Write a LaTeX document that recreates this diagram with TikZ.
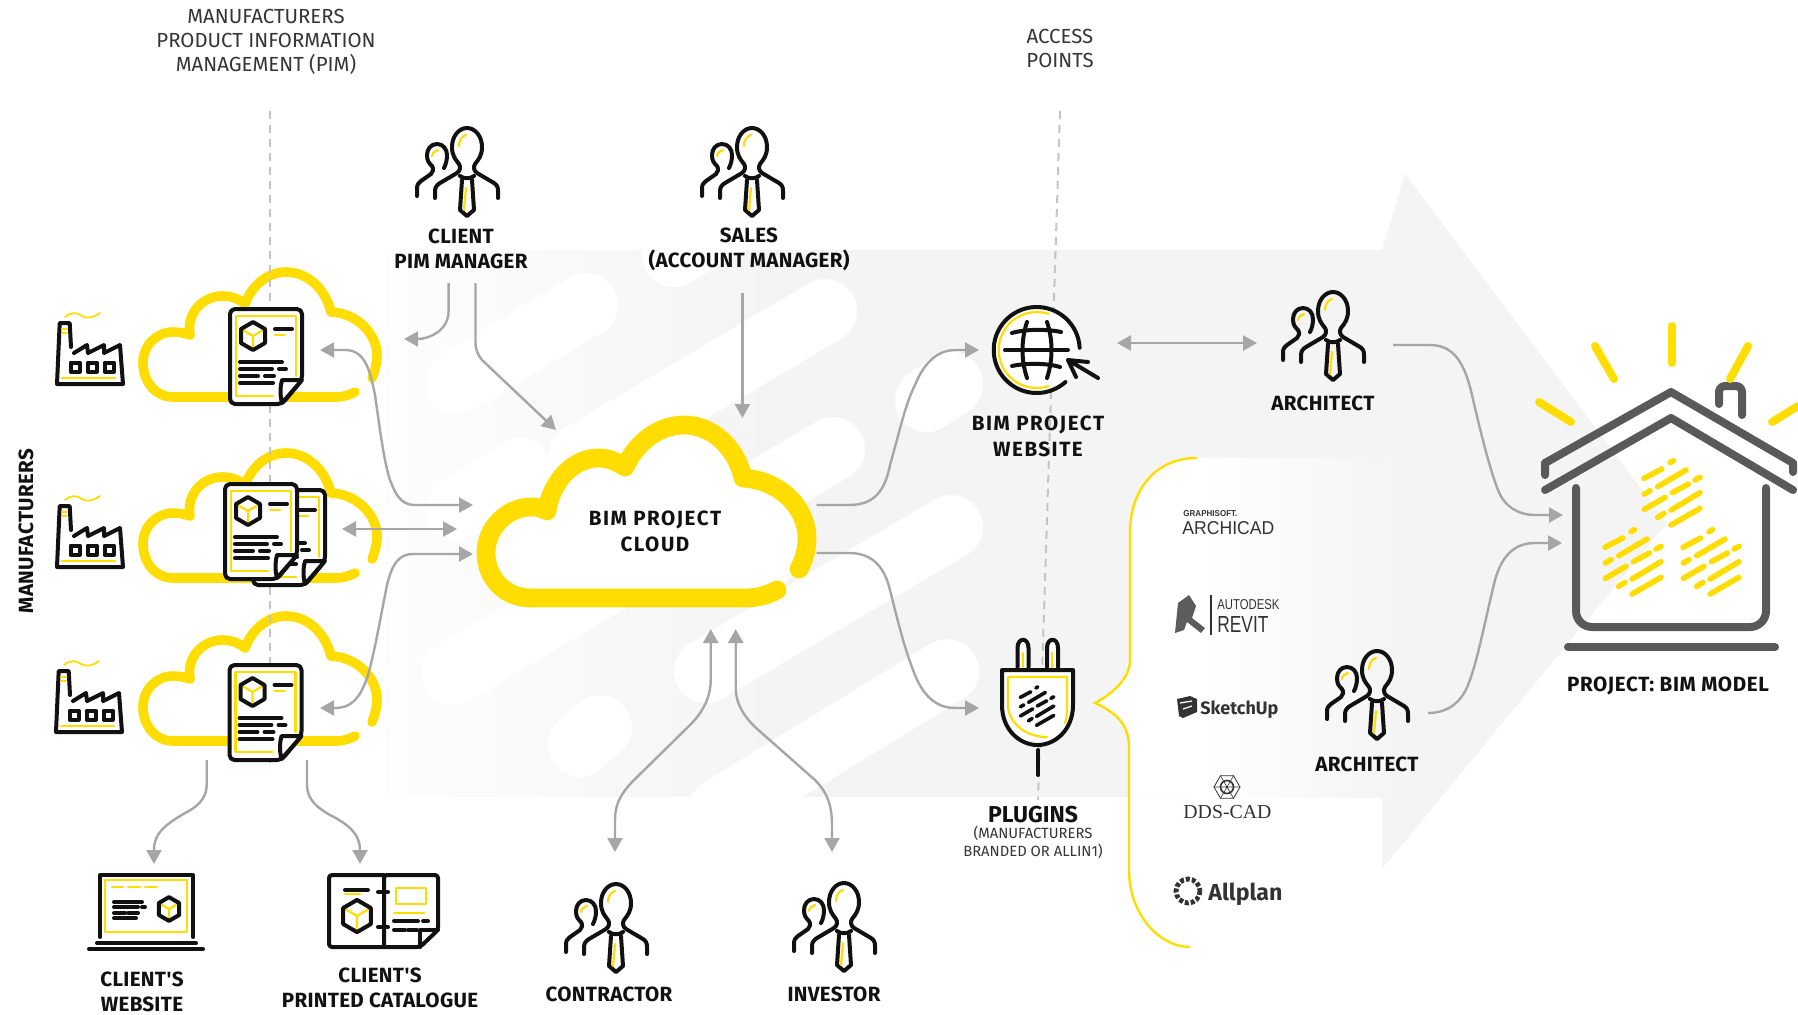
\documentclass[tikz,border=0pt]{standalone}
\usepackage{fontspec}
\usepackage{graphicx}
\setmainfont{Fira Sans}
\newfontfamily\arialf{Liberation Sans}
\newfontfamily\timesf{Liberation Serif}
\newfontfamily\firaspOne[LetterSpace=1.5]{Fira Sans}
\newfontfamily\firaspThree[LetterSpace=3]{Fira Sans}
\newfontfamily\firaspEight[LetterSpace=7.5]{Fira Sans}
\usetikzlibrary{arrows.meta,shapes.geometric}
\definecolor{ylw}{HTML}{FFDD00}
\definecolor{ink}{HTML}{111111}
\definecolor{conn}{HTML}{A6A6A6}
\definecolor{dashc}{HTML}{C4C4C4}
\definecolor{bgarrow}{HTML}{F4F4F4}
\definecolor{bgfade}{HTML}{FDFDFD}
\definecolor{hs}{HTML}{595959}
\definecolor{logoc}{HTML}{333333}
\tikzset{
  blk/.style={draw=ink,line width=2pt,line cap=round,line join=round},
  yl/.style={draw=ylw,line width=1.1pt,line cap=round,line join=round},
  cloudline/.style={draw=ylw,line width=4.8pt,line cap=round,line join=round},
  guide/.style={draw=dashc,line width=1pt,dash pattern=on 4pt off 3pt},
  cn/.style={draw=conn,line width=1.2pt,-{Triangle[length=7pt,width=7.5pt]}},
  cnd/.style={draw=conn,line width=1.2pt,{Triangle[length=7pt,width=7.5pt]}-{Triangle[length=7pt,width=7.5pt]}},
  lab/.style={font=\firaspOne\bfseries\fontsize{10.3}{12.5}\selectfont,align=center,inner sep=0pt,text=ink},
  labwide/.style={font=\firaspEight\bfseries\fontsize{10.3}{13}\selectfont,align=center,inner sep=0pt,text=ink},
  labmid/.style={font=\firaspThree\bfseries\fontsize{10.3}{12.5}\selectfont,align=center,inner sep=0pt,text=ink},
  thin label/.style={font=\fontsize{10.2}{12}\selectfont,align=center,inner sep=0pt,text=ink!85},
  logo/.style={inner sep=0pt,text=logoc},
  person/.pic={
    \draw[blk] (-32,70)--(-32,63) .. controls (-32,59) and (-30,57) .. (-27,55) -- (-10,45) .. controls (-7,43) and (-6,39) .. (-8,36) .. controls (-12,31) and (-15,27) .. (-15,19) .. controls (-15,8) and (-8,0) .. (0,0) .. controls (8,0) and (15,8) .. (15,19) .. controls (15,27) and (12,31) .. (8,36) .. controls (6,39) and (7,43) .. (10,45) -- (27,55) .. controls (30,57) and (31,59) .. (31,63) -- (31,70);
    \draw[blk] (-7,48) .. controls (-3,51) and (3,51) .. (7,48);
    \draw[blk] (-5,52) -- (-7,82) -- (0,88) -- (7,82) -- (5,52);
    \draw[yl] (-1,60) -- (-3,82);
    \draw[yl] (-8,18) .. controls (-8,12) and (-5,8) .. (-1,7);
    \draw[blk] (-50,68) -- (-50,60) .. controls (-50,56) and (-48,55) .. (-46,53) -- (-36,46) .. controls (-34,44) and (-33,41) .. (-35,38) .. controls (-38,35) and (-40,33) .. (-40,27) .. controls (-40,21) and (-36,16) .. (-30,16) .. controls (-24,16) and (-20,21) .. (-20,27) .. controls (-20,32) and (-21,36) .. (-23,40);
    \draw[yl] (-35,28) .. controls (-35,25) and (-32,23) .. (-29,22);
  },
  smallcloud/.pic={
    \draw[cloudline] (355,392) .. controls (349,395) and (344,397) .. (335,397) -- (173,397) .. controls (155,397) and (143,381) .. (143,363) .. controls (143,345) and (157,332) .. (173,332) .. controls (178,332) and (185,333) .. (190,335) .. controls (186,312) and (204,296) .. (222,296) .. controls (230,296) and (238,298) .. (245,304) .. controls (252,285) and (268,272) .. (286,272) .. controls (307,272) and (325,288) .. (331,312) .. controls (358,313) and (377,335) .. (377,355) .. controls (377,362) and (375,371) .. (372,378);
  },
  cube/.pic={
    \draw[yl] (0,0) -- (0,13) (0,0) -- (-11,-6.5) (0,0) -- (11,-6.5);
    \draw[blk] (0,-14) -- (12,-7) -- (12,7) -- (0,14) -- (-12,7) -- (-12,-7) -- cycle;
  },
  docsheet/.pic={
    \draw[blk,fill=white,rounded corners=2.5pt] (0,0) -- (72,0) -- (72,71) -- (52,95) -- (0,95) -- cycle;
    \draw[yl] (43,87) -- (6,87) -- (6,7) -- (66,7) -- (66,67);
    \pic at (23,27) {cube};
    \draw[blk] (45,20) -- (62,20) (10,53) -- (52,53) (10,60) -- (42,60) (49,60) -- (56,60) (10,67) -- (28,67) (35,67) -- (44,67) (10,74) -- (43,74);
    \draw[yl] (45,26) -- (55,26);
    \draw[blk,fill=white] (72,71) -- (52,71) .. controls (50,78) and (50,86) .. (52,94) -- cycle;
  },
  factory/.pic={
    \draw[blk] (14,-37) -- (12.7,-61) -- (2.7,-61) -- (0,0) -- (66,0) -- (63,-39) -- (47,-31) -- (47,-39) -- (31,-31) -- (30,-39) -- (17,-31);
    \foreach \wx in {18,35,52} \draw[blk] (\wx-4.5,-21.5) rectangle (\wx+4.5,-12.5);
    \draw[yl] (5,-6) -- (58,-6) (5,-55) -- (10,-55) (5,-51) -- (10,-51);
    \draw[yl,line width=0.9pt] (8,-67) .. controls (14,-72) and (20,-72) .. (25,-68) .. controls (30,-65) and (36,-66) .. (43,-71);
  },
  bars/.pic={
    \foreach \ax/\ay/\bx/\by in {-6/-90/4/-96,-84/-43/-31/-71,-43/-18/42/-68,69/-38/84/-46,-83/4/-66/-6,1/0/49/-26,-83/50/-21/14,-3/52/84/0,-43/74/-24/62,-3/97/84/47}
      \draw[bar style] (\ax,\ay) -- (\bx,\by);
  },
  bar style/.style={draw=ylw,line width=2.8pt,line cap=round},
}
\begin{document}
\begin{tikzpicture}[x=0.5pt,y=-0.5pt]
\useasboundingbox (0,0) rectangle (1798,1014);
\fill[white] (0,0) rectangle (1798,1014);
% background arrow
\fill[bgarrow] (385,250) -- (1382,250) -- (1405,174) -- (1667,523) -- (1382,869) -- (1382,797) -- (385,797) -- cycle;
\shade[left color=bgfade,right color=bgarrow] (385,250) rectangle (780,797);
% stripes
\foreach \ax/\ay/\bx/\by in {457.5/382/586/305,580/456/825/311,674/255/760/205,927/400/951/384,453/673/833/449,706/671/951/527,580/745/600/727,947/671/720/810,457/509/520/470}
  \draw[white,line width=32pt,line cap=round] (\ax,\ay) -- (\bx,\by);
\fill[white] (385,797) rectangle (1130,860);
\fill[white] (385,200) rectangle (1000,250);
% tool panel
\shade[left color=white,right color=bgarrow] (1197,458) rectangle (1400,797);
\fill[white] (1197,458) .. controls (1155,458) and (1131,490) .. (1130,530) -- (1130,660) .. controls (1130,680) and (1110,695) .. (1095,703) .. controls (1110,710) and (1128,720) .. (1129,745) -- (1129,797) -- (1197,797) -- cycle;
\draw[draw=ylw,line width=1.2pt] (1197,458) .. controls (1155,458) and (1131,490) .. (1130,530) -- (1130,660) .. controls (1130,680) and (1110,695) .. (1095,703) .. controls (1110,710) and (1128,720) .. (1129,745) -- (1129,870) .. controls (1129,915) and (1160,947) .. (1190,947);
% clouds
\pic (cloudA) at (0,0) {smallcloud};
\pic (cloudB) at (0,181) {smallcloud};
\pic (cloudC) at (0,344) {smallcloud};
\draw[guide] (269.5,111) -- (269.5,768);
\draw[guide] (1060,111) -- (1038,800);
\draw[cloudline,line width=9.4pt,fill=white] (777,590) .. controls (768,595) and (757,598) .. (745,598) -- (531,598) .. controls (505,598) and (486,578) .. (486,553) .. controls (486,528) and (507,507) .. (531,507) .. controls (537,507) and (543,508) .. (547,511) .. controls (551,482) and (573,458) .. (598,458) .. controls (606,458) and (614,460) .. (625,467) .. controls (637,441) and (660,425) .. (684,425) .. controls (712,425) and (736,447) .. (743,478) .. controls (780,480) and (807,508) .. (807,538) .. controls (807,550) and (804,560) .. (799,569);
% documents
\pic (docA) at (230,309) {docsheet};
\pic (docB2) at (253,490) {docsheet};
\pic (docB1) at (225,484) {docsheet};
\pic (docC) at (229.5,665) {docsheet};
% factories
\pic (facA) at (57,384) {factory};
\pic (facB) at (57,567) {factory};
\pic (facC) at (56,732) {factory};
% persons
\pic (perClient) at (467,128) {person};
\pic (perSales) at (752,128) {person};
\pic (perArchA) at (1333,292) {person};
\pic (perArchB) at (1377,651) {person};
\pic (perContr) at (616,884) {person};
\pic (perInv) at (844,883) {person};
% globe
\coordinate (gc) at (1036.7,350);
\fill[white] (gc) circle[radius=43];
\draw[yl] ([shift={(-72:38)}]gc) arc[start angle=-72,end angle=-288,radius=38];
\draw[blk] ([shift={(-3:43)}]gc) arc[start angle=-3,end angle=-312,radius=43];
\draw[blk] (1005,350) -- (1068,350);
\draw[blk] (1012,333) .. controls (1025,329) and (1048,329) .. (1061,332);
\draw[blk] (1012,366) .. controls (1025,363) and (1048,363) .. (1060,367);
\draw[blk] (1027,322) .. controls (1021,340) and (1021,360) .. (1027,378);
\draw[blk] (1047,322) .. controls (1053,340) and (1053,360) .. (1047,378);
\draw[blk] (1088,362) -- (1068,360) -- (1076,377) (1068,360) -- (1098,378);
% plug
\draw[blk,fill=white] (1002,670) -- (1073,670) -- (1073,705) .. controls (1073,730) and (1055,745) .. (1037.5,745) .. controls (1020,745) and (1002,730) .. (1002,705) -- cycle;
\draw[yl] (1065,723) .. controls (1067,718) and (1067,712) .. (1067,705) -- (1067,677) -- (1008,677) -- (1008,705) .. controls (1008,722) and (1025,737) .. (1047,737);
\draw[blk,fill=white] (1017.5,667) -- (1017.5,648) .. controls (1017.5,637) and (1028.5,637) .. (1028.5,648) -- (1028.5,667);
\draw[blk,fill=white] (1047,667) -- (1047,648) .. controls (1047,637) and (1058,637) .. (1058,648) -- (1058,667);
\draw[yl] (1022.7,653) -- (1022.7,667) (1051.7,653) -- (1051.7,667);
\draw[blk] (1038,750) -- (1038,775);
\begin{scope}[bar style/.style={draw=ink,line width=1.8pt,line cap=round}]
\pic[scale=0.2] (plugbars) at (1037,706) {bars};
\end{scope}
% laptop
\draw[blk] (100,937) -- (100,875) -- (193,875) -- (193,937);
\draw[yl] (105,880) rectangle (187,932);
\draw[yl] (112,887) -- (123,887) (128,887) -- (140,887) (145,887) -- (157,887);
\draw[blk] (114,902) -- (142,902) (114,907) -- (138,907) (142,907) -- (145,907) (114,913) -- (125,913) (128,913) -- (138,913) (114,918) -- (136,918);
\pic[scale=0.85] (laptopCube) at (169,909) {cube};
\draw[blk] (97,943) -- (196,943) (89,949) -- (203,949);
% catalogue
\draw[blk,rounded corners=1.5pt] (384,875) -- (329,875) -- (329,947) -- (420,947) -- (438,930) -- (438,875) -- (384,875) -- (384,947);
\draw[blk] (378,892) -- (388,892) (378,927) -- (388,927);
\pic[scale=1.15] (catCube) at (357,916) {cube};
\draw[blk] (345,890) -- (368,890) (394,921) -- (418,921) (423,921) -- (428,921) (394,930) -- (405,930) (408,930) -- (417,930);
\draw[yl] (345,894) -- (360,894) (394,913) -- (424,913);
\draw[yl] (396,888) rectangle (426,904);
\draw[blk] (438,930) -- (420,930) -- (420,947);
% house
\begin{scope}[draw=hs,line width=4pt,line cap=round,line join=round]
\draw (1545,475) -- (1545,463) -- (1671,392) -- (1793,463) -- (1793,472);
\draw (1545,490) -- (1671,418) -- (1793,490);
\draw[rounded corners=8pt] (1576,488) -- (1576,627) -- (1766,627) -- (1766,488);
\draw (1568,647) -- (1775,647);
\draw[rounded corners=3pt] (1719,404) -- (1719,386) -- (1742,386) -- (1742,415);
\end{scope}
\foreach \ax/\ay/\bx/\by in {1539/402/1571/422,1595/346/1614/379,1672/326/1672/363,1748/346/1730/379,1772/422/1798/406}
  \draw[draw=ylw,line width=4pt,line cap=round] (\ax,\ay) -- (\bx,\by);
\pic[scale=1/3] (barsTop) at (1672,492.7) {bars};
\pic[scale=1/3] (barsLeft) at (1633,561.7) {bars};
\pic[scale=1/3] (barsRight) at (1711,561.7) {bars};
% connector ends
\coordinate (a1) at (448.6,283); \coordinate (a2) at (404,339);
\coordinate (b1) at (475.5,283); \coordinate (b2) at (556,430);
\coordinate (c1) at (742.4,293); \coordinate (c2) at (742.4,418);
\coordinate (d1) at (816.7,505); \coordinate (d2) at (979,350);
\coordinate (e1) at (816.7,553); \coordinate (e2) at (979,708);
\coordinate (f1) at (710.7,629); \coordinate (f2) at (615,852);
\coordinate (g1) at (735.7,629); \coordinate (g2) at (832,852);
\coordinate (h1) at (320,350); \coordinate (h2) at (473,505);
\coordinate (i1) at (342,529); \coordinate (i2) at (457,529);
\coordinate (j1) at (320,708); \coordinate (j2) at (473,554);
\coordinate (k1) at (206.7,760); \coordinate (k2) at (154,864);
\coordinate (l1) at (307,760); \coordinate (l2) at (360,864);
\coordinate (m1) at (1117,343); \coordinate (m2) at (1257,343);
\coordinate (n1) at (1393,345); \coordinate (n2) at (1563,515);
\coordinate (o1) at (1428,713); \coordinate (o2) at (1562,543);
\draw[cn] (a1) -- (448.6,311) .. controls (448.6,330) and (430,339) .. (a2);
\draw[cn] (b1) -- (475.5,342) .. controls (475.5,350) and (478,355) .. (482,360) -- (b2);
\draw[cn] (c1) -- (c2);
\draw[cn] (d1) -- (849,505) .. controls (875,505) and (885,490) .. (890,465) .. controls (900,430) and (905,405) .. (915,385) .. controls (925,360) and (940,350) .. (955,350) -- (d2);
\draw[cn] (e1) -- (849,553) .. controls (875,553) and (885,570) .. (890,590) .. controls (900,630) and (905,650) .. (915,675) .. controls (925,700) and (940,708) .. (955,708) -- (e2);
\draw[cnd] (f1) -- (710.7,680) .. controls (710.7,700) and (700,715) .. (690,725) -- (632,782) .. controls (620,795) and (615,805) .. (615,820) -- (f2);
\draw[cnd] (g1) -- (735.7,687) .. controls (735.7,705) and (745,717) .. (755,727) -- (815,780) .. controls (827,792) and (832,805) .. (832,825) -- (g2);
\draw[cnd] (h1) -- (345,350) .. controls (365,350) and (370,370) .. (375,395) .. controls (380,430) and (385,470) .. (392,485) .. controls (398,500) and (405,505) .. (415,505) -- (h2);
\draw[cnd] (i1) -- (i2);
\draw[cnd] (j2) -- (413,554) .. controls (398,554) and (392,565) .. (387,585) .. controls (380,620) and (375,650) .. (368,675) .. controls (360,700) and (350,708) .. (335,708) -- (j1);
\draw[cn] (k1) -- (206.7,785) .. controls (206.7,800) and (195,808) .. (185,813) .. controls (165,825) and (154,833) .. (154,850) -- (k2);
\draw[cn] (l1) -- (307,785) .. controls (307,800) and (318,808) .. (330,815) .. controls (350,825) and (360,835) .. (360,850) -- (l2);
\draw[cnd] (m1) -- (m2);
\draw[cn] (n1) -- (1430,345) .. controls (1455,345) and (1465,365) .. (1472,395) .. controls (1480,430) and (1490,470) .. (1498,490) .. controls (1505,508) and (1520,515) .. (1535,515) -- (n2);
\draw[cn] (o1) .. controls (1445,713) and (1460,705) .. (1468,685) .. controls (1478,660) and (1485,620) .. (1495,580) .. controls (1502,555) and (1515,543) .. (1535,543) -- (o2);
% labels
\node[thin label] (tPim) at (266,41.5) {MANUFACTURERS\\PRODUCT INFORMATION\\MANAGEMENT (PIM)};
\node[thin label] (tAccess) at (1060,48.5) {ACCESS\\POINTS};
\node[lab] (tClient) at (461,249) {CLIENT\\PIM MANAGER};
\node[lab] (tSales) at (749,249) {SALES\\(ACCOUNT MANAGER)};
\node[labwide] (tWeb) at (1038,436) {BIM PROJECT\\WEBSITE};
\node[lab] (tArchA) at (1323,403) {ARCHITECT};
\node[lab] (tArchB) at (1367,764) {ARCHITECT};
\node[labwide] (tCloud) at (655,531) {BIM PROJECT\\CLOUD};
\node[lab,font=\bfseries\fontsize{11.5}{13}\selectfont] (tPlug) at (1033,815) {PLUGINS};
\node[thin label,font=\fontsize{7.4}{9}\selectfont] (tPlugSub) at (1033,842) {(MANUFACTURERS\\BRANDED OR ALLIN1)};
\node[labmid] (tBim) at (1668,686) {PROJECT: BIM MODEL};
\node[lab] (tCW) at (142,992) {CLIENT'S\\WEBSITE};
\node[lab] (tCC) at (380,988) {CLIENT'S\\PRINTED CATALOGUE};
\node[lab] (tContr) at (609,994) {CONTRACTOR};
\node[lab] (tInv) at (834,994) {INVESTOR};
\node[lab,rotate=90] (tMan) at (26,531) {MANUFACTURERS};
% logos
\node[logo,anchor=west] (lgGraphi) at (1183,514) {\resizebox{27pt}{3pt}{\arialf\bfseries GRAPHISOFT.}};
\node[logo,anchor=west] (lgArchi) at (1182,528) {\resizebox{46pt}{6.5pt}{\arialf ARCHICAD}};
\fill[logoc!80] (1175,633) -- (1178,603) -- (1189,595) -- (1196,606) -- (1192,618) -- (1205,628) -- (1201,633) -- (1187,622) -- (1184,630) -- cycle;
\draw[logoc,line width=0.6pt] (1211,595) -- (1211,635);
\node[logo,anchor=west] (lgAuto) at (1217,605) {\resizebox{31pt}{5pt}{\arialf AUTODESK}};
\node[logo,anchor=west] (lgRevit) at (1217,624) {\resizebox{25.5pt}{8pt}{\arialf REVIT}};
\fill[logoc] (1177,699) -- (1190,696) -- (1197,699) -- (1197,712) -- (1183,718) -- (1179,716) -- cycle;
\draw[white,line width=0.6pt] (1180,703) -- (1192,701) (1183,709) -- (1192,706);
\node[logo,anchor=west] (lgSketch) at (1200,710) {\resizebox{39pt}{!}{\bfseries SketchUp}};
\node[regular polygon,regular polygon sides=6,draw=logoc,line width=0.4pt,inner sep=0pt,minimum size=13pt] (lgDdsIcon) at (1227,787) {};
\node[circle,draw=logoc,line width=0.8pt,inner sep=0pt,minimum size=6.5pt] (lgDdsCore) at (1227,787) {};
\draw[logoc,line width=0.3pt] (lgDdsIcon.corner 1) -- (lgDdsIcon.corner 4) (lgDdsIcon.corner 2) -- (lgDdsIcon.corner 5) (lgDdsIcon.corner 3) -- (lgDdsIcon.corner 6);
\node[logo,anchor=west] (lgDds) at (1183,812) {\resizebox{44pt}{!}{\timesf DDS-CAD}};
\draw[logoc,line width=2.4pt,dash pattern=on 2pt off 1pt] (1188,891) circle[radius=12];
\node[logo,anchor=west] (lgAll) at (1208,894) {\resizebox{37pt}{!}{\fontseries{sb}\selectfont Allplan}};
\end{tikzpicture}
\end{document}
